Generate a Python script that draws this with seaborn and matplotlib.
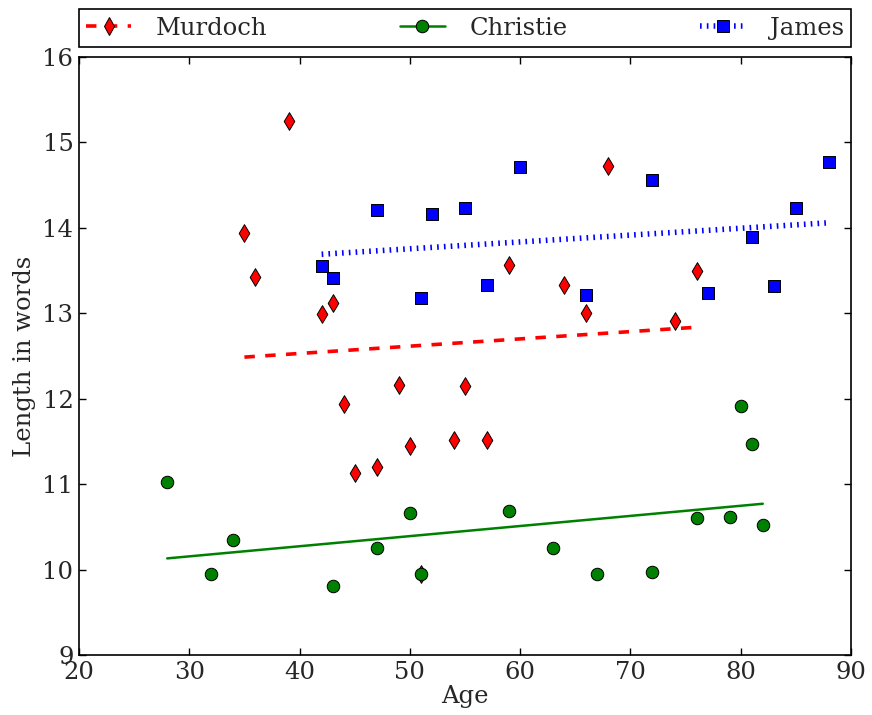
import matplotlib
matplotlib.use("Agg")
import matplotlib.pyplot as plt
from matplotlib.lines import Line2D
import pandas as pd
import seaborn as sns

# Sentence length against age for three authors
murdoch_age = [35, 36, 39, 42, 43, 44, 45, 47, 49, 50, 51, 54, 55, 57, 59, 64, 66, 68, 74, 76]
murdoch_len = [13.94, 13.42, 15.25, 12.99, 13.12, 11.94, 11.13, 11.20, 12.16, 11.45,
               9.95, 11.52, 12.15, 11.52, 13.57, 13.33, 13.00, 14.72, 12.91, 13.49]
christie_age = [28, 32, 34, 43, 47, 50, 51, 59, 63, 67, 72, 76, 79, 80, 81, 82]
christie_len = [11.03, 9.95, 10.35, 9.81, 10.25, 10.66, 9.95, 10.69, 10.25, 9.95,
                9.97, 10.60, 10.61, 11.91, 11.47, 10.52]
james_age = [42, 43, 47, 51, 52, 55, 57, 60, 66, 72, 77, 81, 83, 85, 88]
james_len = [13.55, 13.41, 14.21, 13.18, 14.16, 14.23, 13.33, 14.71, 13.21, 14.56,
             13.24, 13.89, 13.32, 14.23, 14.77]

authors = ["Murdoch", "Christie", "James"]
x_ticks = [20, 30, 40, 50, 60, 70, 80, 90]
y_ticks = [9, 10, 11, 12, 13, 14, 15, 16]

sns.set_style("ticks")
plt.rcParams["font.family"] = ["DejaVu Serif"]
plt.rcParams["lines.scale_dashes"] = False

FS = 17.5
MS = 9
EDGE = 0.7

styles = {
    "Murdoch": dict(color="#ff0000", marker="d", lw=2.6, dashes=(7.5, 7.5)),
    "Christie": dict(color="#008000", marker="o", lw=1.8, dashes=None),
    "James": dict(color="#0000ff", marker="s", lw=4.0, dashes=(1.2, 3.7)),
}
series = {
    "Murdoch": (murdoch_age, murdoch_len),
    "Christie": (christie_age, christie_len),
    "James": (james_age, james_len),
}

fig = plt.figure(figsize=(8.72, 7.15), dpi=100)
ax = fig.add_axes([0.0906, 0.0839, 0.8853, 0.8364])

handles = []
for name in authors:
    ages, lens = series[name]
    st = styles[name]
    df = pd.DataFrame({"age": ages, "length": lens})
    sns.scatterplot(data=df, x="age", y="length", ax=ax, marker=st["marker"],
                    s=MS ** 2, color=st["color"], edgecolor="black",
                    linewidth=EDGE, legend=False, zorder=2)
    line_kws = dict(lw=st["lw"], zorder=3)
    if st["dashes"] is not None:
        line_kws["dashes"] = st["dashes"]
    sns.regplot(data=df, x="age", y="length", ax=ax, scatter=False, ci=None,
                truncate=True, color=st["color"], line_kws=line_kws)
    h_kws = dict(color=st["color"], lw=st["lw"], marker=st["marker"],
                 markersize=MS, markerfacecolor=st["color"],
                 markeredgecolor="black", markeredgewidth=EDGE)
    if st["dashes"] is not None:
        h_kws["dashes"] = st["dashes"]
    handles.append(Line2D([], [], **h_kws))

ax.set_xlim(20, 90)
ax.set_ylim(9, 16)
ax.set_xticks(x_ticks)
ax.set_yticks(y_ticks)
ax.tick_params(direction="in", top=True, right=True, length=5, width=1,
               labelsize=FS, pad=4, color="black")
for sp in ax.spines.values():
    sp.set_visible(True)
    sp.set_color("black")
    sp.set_linewidth(1.2)

ax.set_xlabel("Age", fontsize=FS, labelpad=1)
ax.set_ylabel("Length in words", fontsize=FS, labelpad=5)

leg = ax.legend(handles, authors, bbox_to_anchor=(0, 1.0167, 1, 0.06),
                loc="lower left", ncol=3, mode="expand", borderaxespad=0,
                numpoints=1, fancybox=False, frameon=True, framealpha=1,
                edgecolor="black", fontsize=FS, handlelength=1.85,
                handletextpad=1.0, borderpad=0.3)
leg.get_frame().set_linewidth(1.2)

fig.savefig("out.png", dpi=100)
